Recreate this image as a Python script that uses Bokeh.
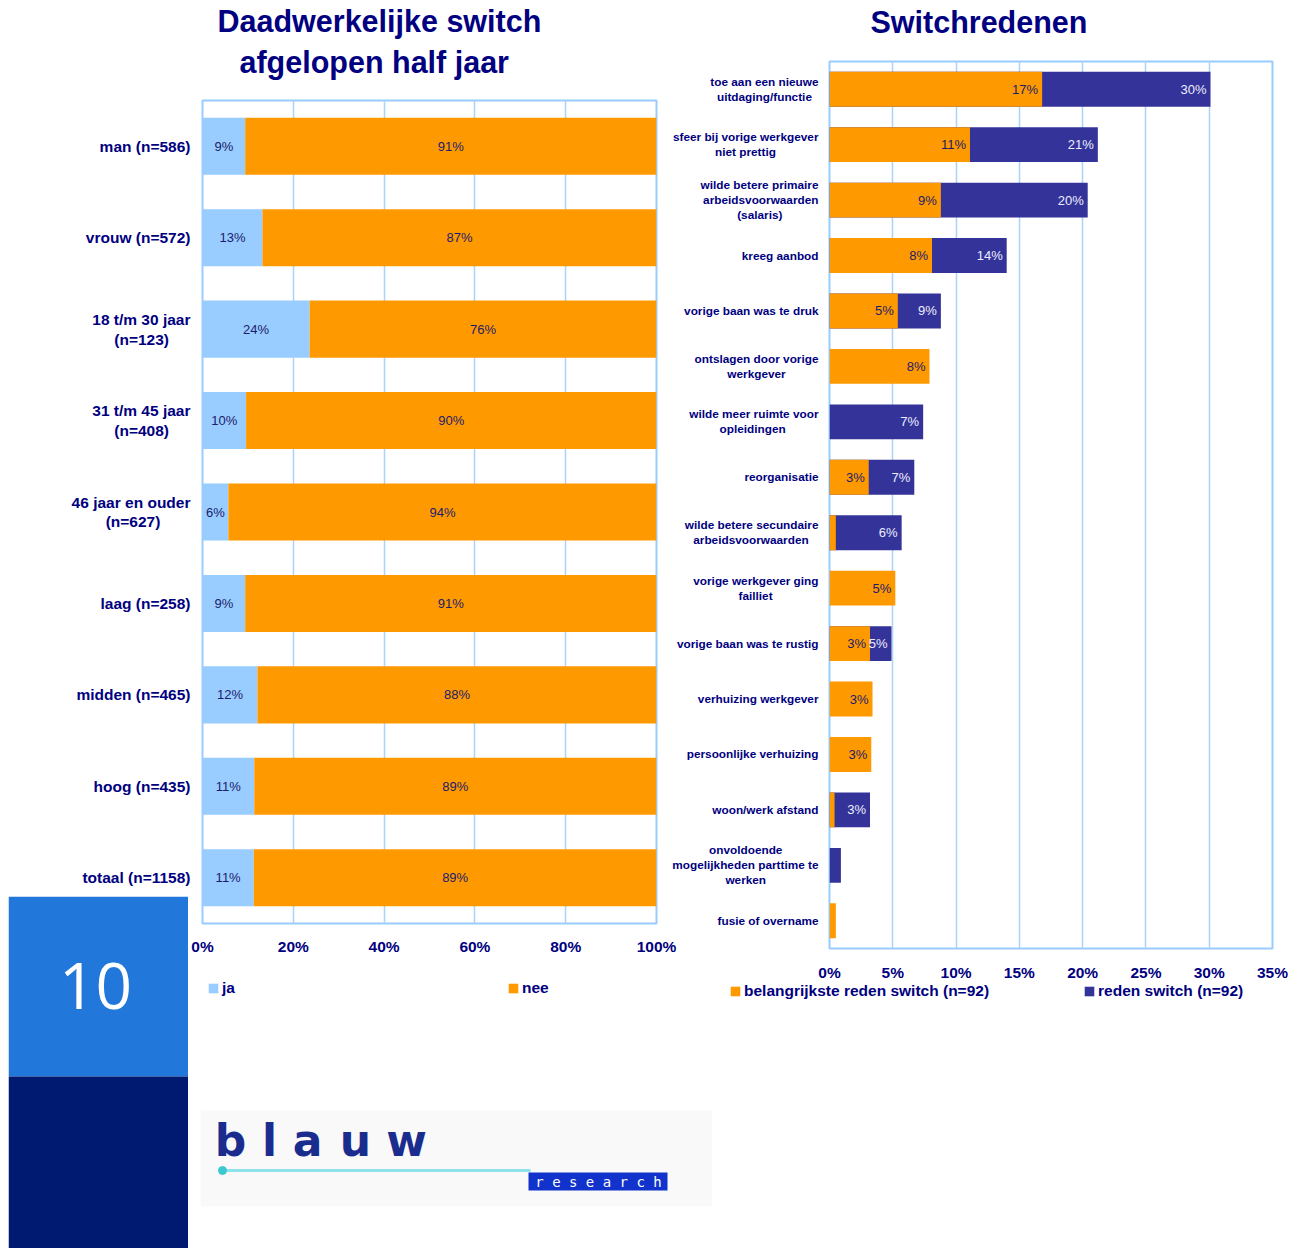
from bokeh.plotting import figure
from bokeh.models import (ColumnDataSource, FactorRange, Range1d, FixedTicker, PrintfTickFormatter,
                          Legend, LegendItem, Title)
from bokeh.core.properties import value
from bokeh.embed import file_html
from bokeh.resources import INLINE

# ---------------- data ----------------
groups = ["man (n=586)", "vrouw (n=572)", "18 t/m 30 jaar\n(n=123)", "31 t/m 45 jaar\n(n=408)",
          "46 jaar en ouder\n(n=627)", "laag (n=258)", "midden (n=465)", "hoog (n=435)",
          "totaal (n=1158)"]
ja = [9.4, 13.2, 23.6, 9.6, 5.7, 9.4, 12.1, 11.4, 11.3]
nee = [90.6, 86.8, 76.4, 90.4, 94.3, 90.6, 87.9, 88.6, 88.7]
left_ticks = [0, 20, 40, 60, 80, 100]
left_series = ["ja", "nee"]

reasons = ["toe aan een nieuwe\nuitdaging/functie",
           "sfeer bij vorige werkgever\nniet prettig",
           "wilde betere primaire\narbeidsvoorwaarden\n(salaris)",
           "kreeg aanbod",
           "vorige baan was te druk",
           "ontslagen door vorige\nwerkgever",
           "wilde meer ruimte voor\nopleidingen",
           "reorganisatie",
           "wilde betere secundaire\narbeidsvoorwaarden",
           "vorige werkgever ging\nfailliet",
           "vorige baan was te rustig",
           "verhuizing werkgever",
           "persoonlijke verhuizing",
           "woon/werk afstand",
           "onvoldoende\nmogelijkheden parttime te\nwerken",
           "fusie of overname"]
belangrijkste = [16.8, 11.1, 8.8, 8.1, 5.4, 7.9, 0.0, 3.1, 0.5, 5.2, 3.2, 3.4, 3.3, 0.4, 0.0, 0.5]
reden = [30.1, 21.2, 20.4, 14.0, 8.8, 0.0, 7.4, 6.7, 5.7, 0.0, 4.9, 0.0, 0.0, 3.2, 0.9, 0.0]
right_ticks = [0, 5, 10, 15, 20, 25, 30, 35]
right_series = ["belangrijkste reden switch (n=92)", "reden switch (n=92)"]

page_number = "10"

# ---------------- style ----------------
FONT = "Liberation Sans"
NAVY = "#000080"
LBL_DARK = "#1c1c6c"
LBL_LIGHT = "#eeeeff"
JA_C = "#99ccff"
ORANGE = "#ff9900"
BLUE = "#333399"
GRIDC = "#a9d3fb"

# advance widths (1/1000 em) of Liberation Sans Bold, used to centre the lines of wrapped labels
_W = {" ": 278, "(": 333, ")": 333, "/": 278, "=": 584, "%": 889, "a": 556, "b": 611, "c": 556,
      "d": 611, "e": 556, "f": 333, "g": 611, "h": 611, "i": 278, "j": 278, "k": 556, "l": 278,
      "m": 889, "n": 611, "o": 611, "p": 611, "q": 611, "r": 389, "s": 556, "t": 333, "u": 611,
      "v": 556, "w": 778, "x": 556, "y": 556, "z": 500}


def centred(label):
    lines = label.split("\n")
    if len(lines) == 1:
        return label
    ws = [sum(_W.get(c, 556) for c in ln) for ln in lines]
    m = max(ws)
    return "\n".join(ln + ("\u00a0" * round((m - w) / 2 / 278) + "\u200b" if m > w else "")
                     for ln, w in zip(lines, ws))


def place(fig, left, top):
    fig.styles = {"position": "absolute", "left": f"{left}px", "top": f"{top}px"}


def plain(fig):
    fig.outline_line_color = None
    fig.border_fill_color = None
    fig.background_fill_color = None
    for g in fig.grid:
        g.grid_line_color = None


def style_common(p):
    p.outline_line_color = "#99ccff"
    p.outline_line_width = 2
    p.ygrid.grid_line_color = None
    p.xgrid.grid_line_color = GRIDC
    p.xgrid.grid_line_width = 1.5
    p.border_fill_color = None
    for ax in (p.xaxis[0], p.yaxis[0]):
        ax.axis_line_color = None
        ax.major_tick_line_color = None
        ax.minor_tick_line_color = None
        ax.major_tick_out = 0
        ax.major_tick_in = 0
        ax.major_label_text_font = FONT
        ax.major_label_text_font_style = "bold"
        ax.major_label_text_color = NAVY
    p.xaxis.major_label_text_font_size = "15.5px"
    p.xaxis.formatter = PrintfTickFormatter(format="%d%%")


def legend_fig(left, top, width, entries, spacing):
    f = figure(width=width, height=24, x_range=Range1d(0, 1), y_range=Range1d(0, 1),
               output_backend="svg", toolbar_location=None, title=None,
               x_axis_location=None, y_axis_location=None, min_border=0)
    plain(f)
    items = []
    for label, color in entries:
        # zero-width swatch renderer: only its legend glyph is visible
        r = f.hbar(y=[0.5], left=[0], right=[0], height=0, fill_color=color, line_color=None)
        items.append(LegendItem(label=label, renderers=[r]))
    f.add_layout(Legend(items=items, location="center_left", orientation="horizontal", spacing=spacing,
                        label_text_font=FONT, label_text_font_size="15.5px", label_text_font_style="bold",
                        label_text_color=NAVY, glyph_width=12, glyph_height=12, label_standoff=3,
                        padding=0, margin=0, border_line_color=None, background_fill_alpha=0,
                        label_height=14, label_width=20))
    place(f, left, top)
    return f


t_kw = dict(text_font=FONT, text_font_style="bold", text_color=NAVY, text_font_size="30.5px",
            align="left")

# ---------------- left chart ----------------
g_f = [centred(g) for g in groups]
L = figure(width=680, height=1010, y_range=FactorRange(*reversed(g_f)), x_range=Range1d(0, 100),
           output_backend="svg", toolbar_location=None, title=None,
           min_border_left=202, min_border_right=24, min_border_top=100, min_border_bottom=87)
style_common(L)
L.xaxis.ticker = FixedTicker(ticks=left_ticks)
L.xgrid.ticker = FixedTicker(ticks=left_ticks)
L.xaxis.major_label_standoff = 14
L.yaxis.major_label_text_font_size = "15.5px"
L.yaxis.major_label_standoff = 12
L.yaxis.major_label_text_line_height = 1.17

src_l = ColumnDataSource(dict(
    g=g_f, ja=ja, end=[a + b for a, b in zip(ja, nee)],
    ja_mid=[a / 2 for a in ja], nee_mid=[a + b / 2 for a, b in zip(ja, nee)],
    ja_lbl=[f"{round(a)}%" for a in ja], nee_lbl=[f"{round(b)}%" for b in nee]))
L.hbar(y="g", left=0, right="ja", height=0.624, fill_color=JA_C, line_color=None, source=src_l)
L.hbar(y="g", left="ja", right="end", height=0.624, fill_color=ORANGE, line_color=None, source=src_l)
L.text(x="ja_mid", y="g", text="ja_lbl", source=src_l, text_align="center", text_baseline="middle",
       text_font=value(FONT), text_font_size="13px", text_color=LBL_DARK)
L.text(x="nee_mid", y="g", text="nee_lbl", source=src_l, text_align="center", text_baseline="middle",
       text_font=value(FONT), text_font_size="13px", text_color=LBL_DARK)

L.add_layout(Title(text="afgelopen half jaar", offset=37, standoff=44, **t_kw), "above")
L.add_layout(Title(text="Daadwerkelijke switch", offset=15, standoff=-34, **t_kw), "above")
place(L, 0, 0)

# ---------------- right chart ----------------
r_f = [centred(r) for r in reasons]
R = figure(width=625, height=1031, y_range=FactorRange(*reversed(r_f)), x_range=Range1d(0, 35),
           output_backend="svg", toolbar_location=None, title=None,
           min_border_left=165, min_border_right=17, min_border_top=0, min_border_bottom=62)
style_common(R)
R.xaxis.ticker = FixedTicker(ticks=right_ticks)
R.xgrid.ticker = FixedTicker(ticks=right_ticks)
R.xaxis.major_label_standoff = 15
R.yaxis.major_label_text_font_size = "11.8px"
R.yaxis.major_label_standoff = 11
R.yaxis.major_label_text_line_height = 1.08

src_r = ColumnDataSource(dict(
    r=r_f, b=belangrijkste, s=reden,
    b_lbl=[f"{round(v)}%" if v >= 2 else "" for v in belangrijkste],
    s_lbl=[f"{round(v)}%" if v >= 2 else "" for v in reden]))
R.hbar(y="r", left=0, right="s", height=0.63, fill_color=BLUE, line_color=None, source=src_r)
R.hbar(y="r", left=0, right="b", height=0.63, fill_color=ORANGE, line_color=None, source=src_r)
R.text(x="b", y="r", text="b_lbl", source=src_r, text_align="right", text_baseline="middle", x_offset=-4,
       text_font=value(FONT), text_font_size="13px", text_color=LBL_DARK)
R.text(x="s", y="r", text="s_lbl", source=src_r, text_align="right", text_baseline="middle", x_offset=-4,
       text_font=value(FONT), text_font_size="13px", text_color=LBL_LIGHT)
R.add_layout(Title(text="Switchredenen", offset=41, standoff=46, **t_kw), "above")
place(R, 664, -21)

# ---------------- legends ----------------
legL = legend_fig(207, 976, 400, list(zip(left_series, [JA_C, ORANGE])), 265)
legR = legend_fig(729, 979, 560, list(zip(right_series, [ORANGE, BLUE])), 94)

# ---------------- page number block ----------------
B = figure(width=180, height=352, x_range=Range1d(0, 180), y_range=Range1d(0, 352),
           output_backend="svg", toolbar_location=None, title=None,
           x_axis_location=None, y_axis_location=None, min_border=0)
plain(B)
B.quad(left=0, right=180, bottom=172, top=352, fill_color="#2177da", line_color=None)
B.quad(left=0, right=180, bottom=0, top=172, fill_color="#001a72", line_color=None)
B.text(x=[87], y=[263], text=[page_number], text_align="center", text_baseline="middle",
       text_font=value("Open Sans"), text_font_size="64px", text_color="white")
place(B, 8, 896)

# ---------------- logo ----------------
G = figure(width=512, height=100, x_range=Range1d(0, 512), y_range=Range1d(0, 100),
           output_backend="svg", toolbar_location=None, title=None,
           x_axis_location=None, y_axis_location=None, min_border=0)
plain(G)
G.quad(left=0, right=512, bottom=2, top=98, fill_color="#f9f9f9", line_color=None)
G.text(x=[30, 69, 107, 155, 206], y=[68] * 5, text=list("blauw"), text_align="center",
       text_baseline="alphabetic", text_font=value("DejaVu Sans"), text_font_size="44px",
       text_font_style="bold", text_color="#1a2d8f")
G.line(x=[22, 330], y=[38, 38], line_color="#8fe2ea", line_width=3)
G.scatter(x=[22], y=[38], size=8, color="#3cc8d0")
G.quad(left=328, right=467, bottom=18, top=36, fill_color="#1133cc", line_color=None)
G.text(x=[398], y=[27], text=["r e s e a r c h"], text_align="center", text_baseline="middle",
       text_font=value("DejaVu Sans Mono"), text_font_size="14px", text_color="white")
place(G, 200, 1108)

open("out.html", "w").write(file_html([L, R, legL, legR, B, G], INLINE))
